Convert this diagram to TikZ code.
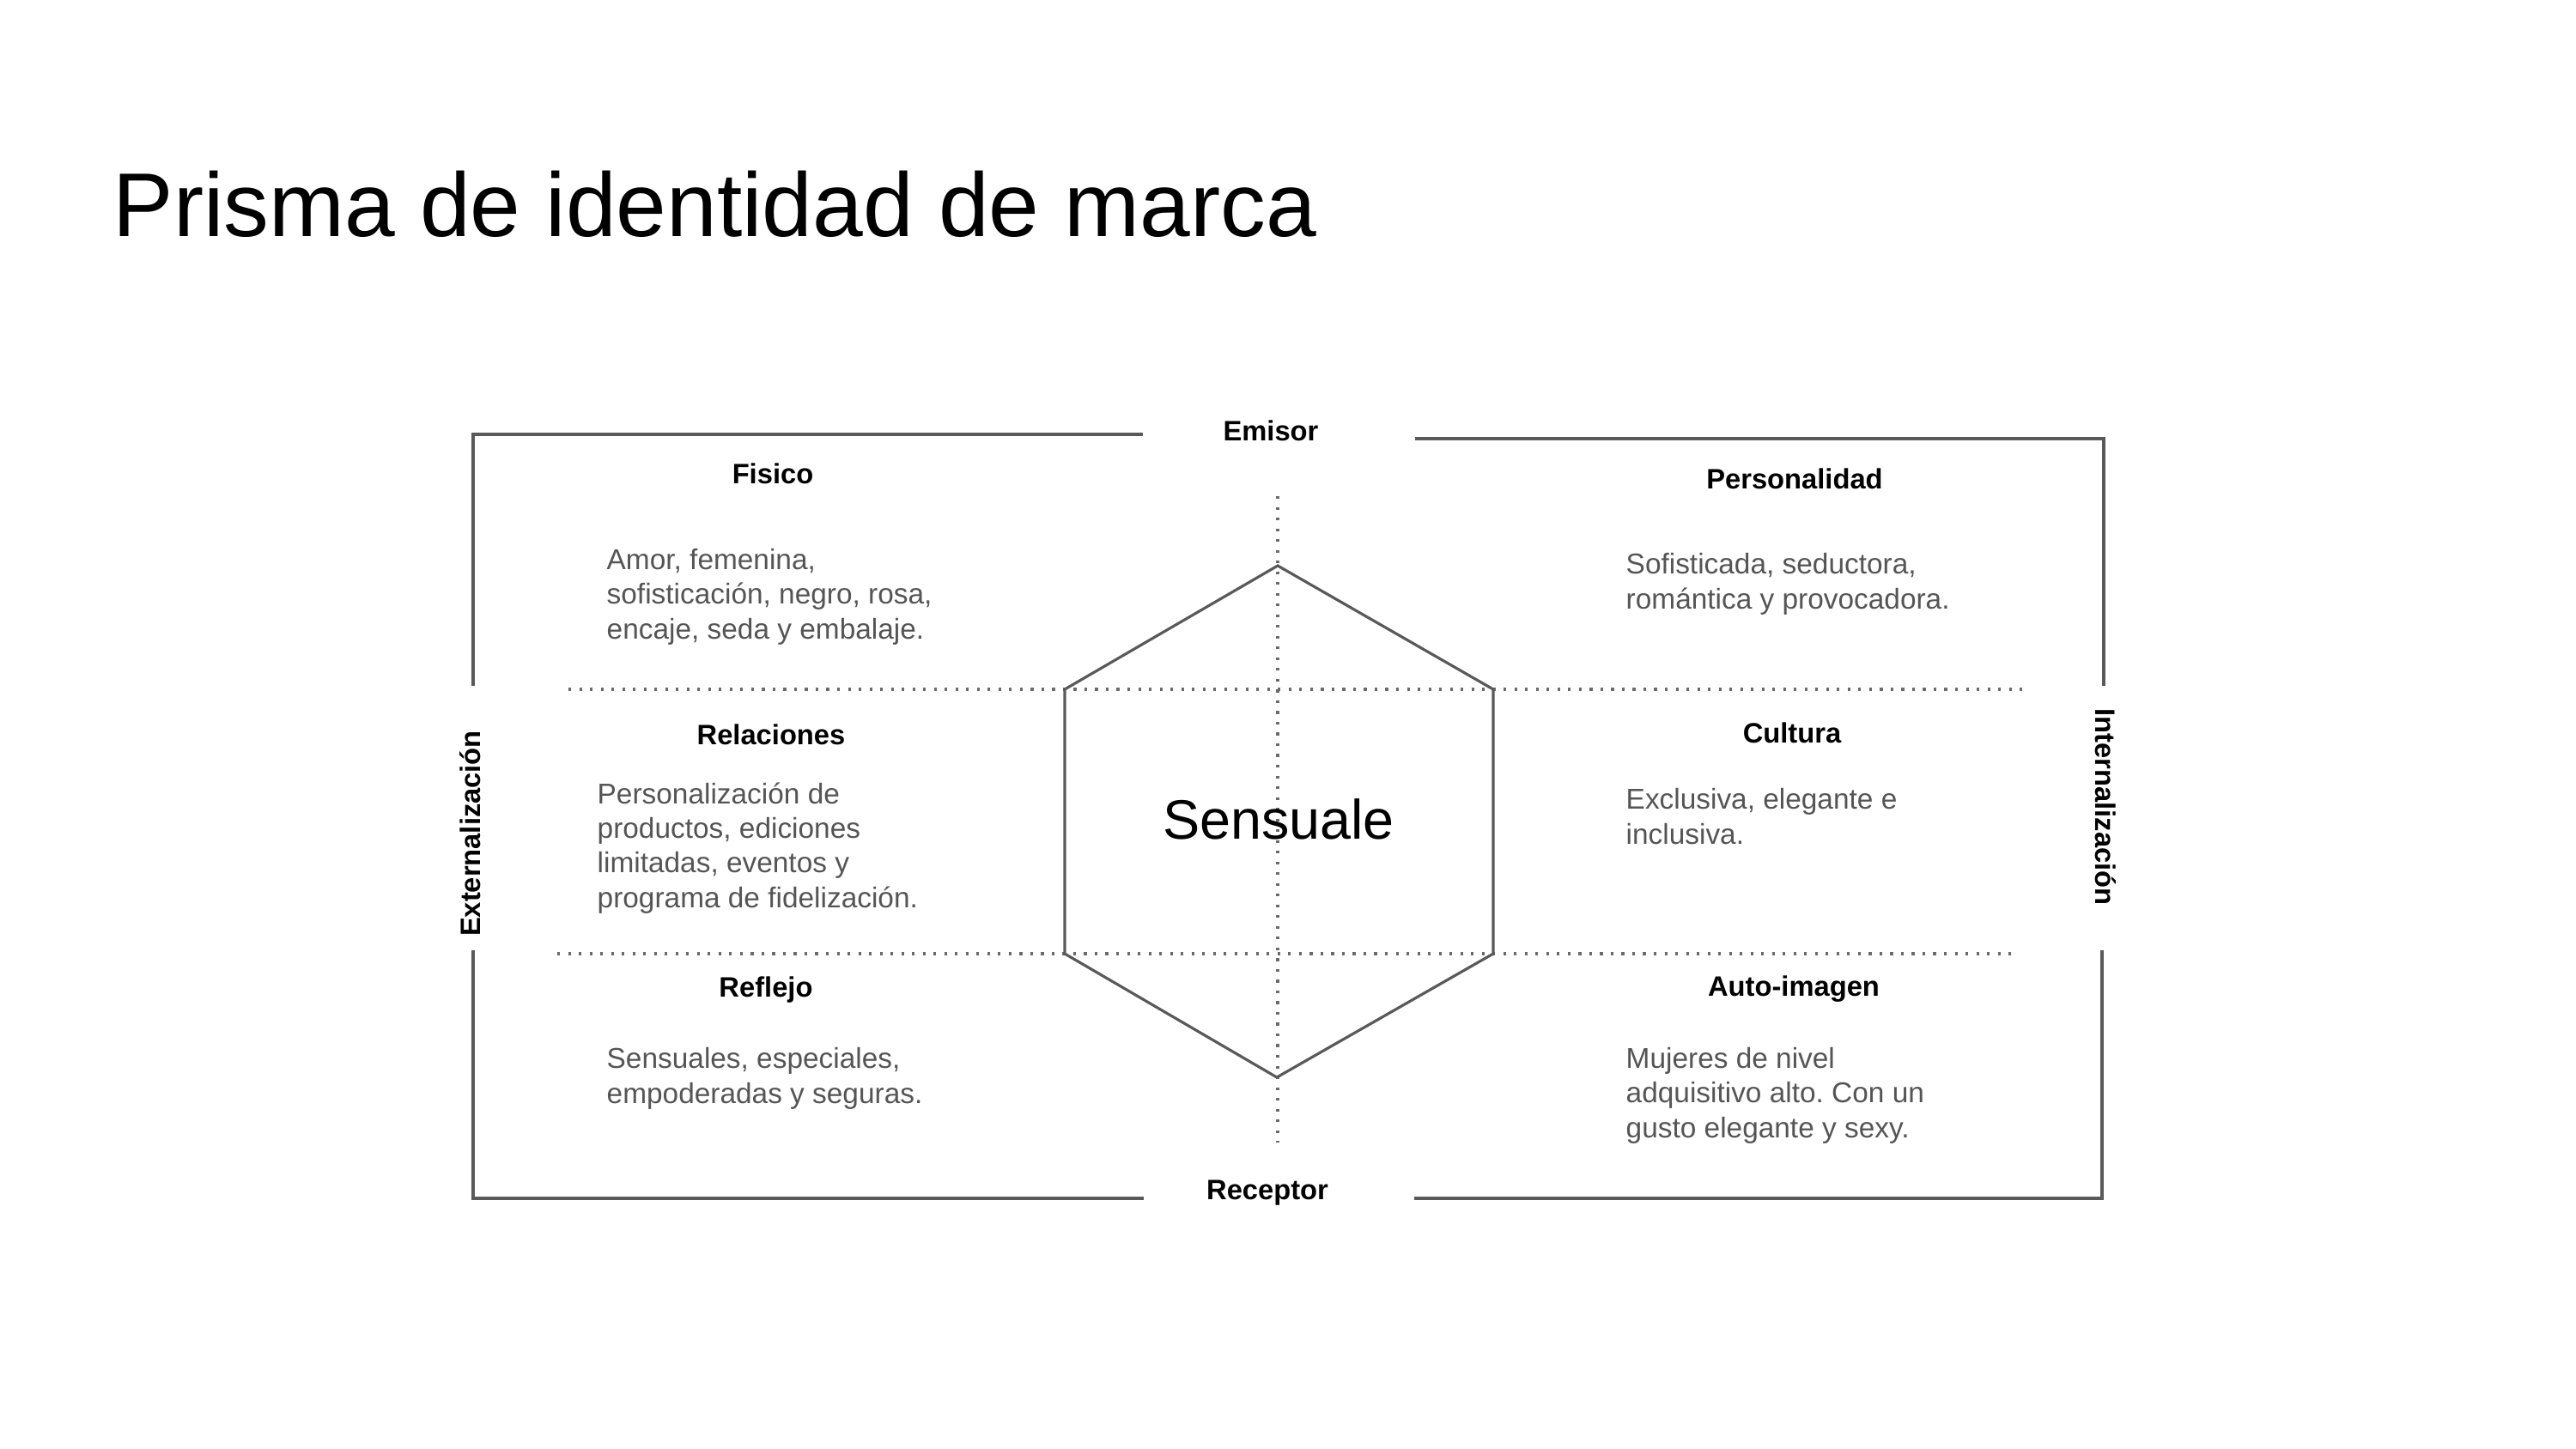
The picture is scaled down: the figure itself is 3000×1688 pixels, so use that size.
\documentclass[tikz,border=0pt]{standalone}
\usepackage{fontspec}
\setmainfont{Liberation Sans}
\usepackage{xcolor}
\definecolor{prismline}{HTML}{595959}
\definecolor{prismtext}{HTML}{555555}
\definecolor{prismdot}{HTML}{6a6a6a}
\frenchspacing

\begin{document}
\begin{tikzpicture}[x=0.01cm, y=-0.01cm,
  facet/.style={font=\fontsize{9.3}{11}\selectfont\bfseries, anchor=base, inner sep=0pt},
  facettext/.style={font=\fontsize{9.5}{11.4}\selectfont, text=prismtext,
    anchor=base west, inner sep=0pt, align=left},
  frame/.style={draw=prismline, line width=0.9pt},
  guide/.style={draw=prismdot, line width=0.9pt, dash pattern=on 0.9pt off 2.66pt},
  hexline/.style={draw=prismline, line width=0.9pt, line join=miter}
]
\useasboundingbox (0,0) rectangle (3000,1688);

\node[anchor=base west, inner sep=0pt, font=\fontsize{30}{36}\selectfont] (title) at (131,275)
  {Prisma de identidad de marca};

% axis labels
\node[facet] (emisor) at (1480,513) {Emisor};
\node[facet] (receptor) at (1476,1397) {Receptor};
\node[facet, rotate=90] (ext) at (559,971) {Externalización};
\node[facet, rotate=-90] (int) at (2440,940) {Internalización};

% frame corners
\coordinate (tl) at (551,506);
\coordinate (tr) at (2450,511);
\coordinate (bl) at (551,1396);
\coordinate (br) at (2448,1396);
\draw[frame] (551,799) -- (tl) -- (1331,506);
\draw[frame] (1648,511) -- (tr) -- (2450,799);
\draw[frame] (551,1107) -- (bl) -- (1332,1396);
\draw[frame] (1647,1396) -- (br) -- (2448,1107);

% dotted guides
\coordinate (gtop) at (1488,578);
\coordinate (gbot) at (1488,1331);
\draw[guide] (662,803) -- (2361,803);
\draw[guide] (649,1111) -- (2348,1111);
\draw[guide] (gtop) -- (gbot);

% prism
\coordinate (hn) at (1488,659);
\coordinate (hne) at (1739,803);
\coordinate (hse) at (1739,1111);
\coordinate (hs) at (1487,1255);
\coordinate (hsw) at (1240,1111);
\coordinate (hnw) at (1240,803);
\draw[hexline] (hn) -- (hne) -- (hse) -- (hs) -- (hsw) -- (hnw) -- cycle;
\node[anchor=base, inner sep=0pt, font=\fontsize{18.4}{22}\selectfont] (brand) at (1489,977) {Sensuale};

% facets (text nodes sit on the baseline of their last line)
\node[facet] (fisico) at (900,563) {Fisico};
\node[facettext] (fisicotxt) at (706,744)
  {Amor, femenina,\\sofisticación, negro, rosa,\\encaje, seda y embalaje.};
\node[facet] (perso) at (2090,569) {Personalidad};
\node[facettext] (persotxt) at (1893,709)
  {Sofisticada, seductora,\\romántica y provocadora.};
\node[facet] (rela) at (898,867) {Relaciones};
\node[facettext] (relatxt) at (695,1057)
  {Personalización de\\productos, ediciones\\limitadas, eventos y\\programa de fidelización.};
\node[facet] (cultura) at (2087,865) {Cultura};
\node[facettext] (culturatxt) at (1893,983)
  {Exclusiva, elegante e\\inclusiva.};
\node[facet] (reflejo) at (892,1161) {Reflejo};
\node[facettext] (reflejotxt) at (706,1285)
  {Sensuales, especiales,\\empoderadas y seguras.};
\node[facet] (auto) at (2089,1160) {Auto-imagen};
\node[facettext] (autotxt) at (1893,1325)
  {Mujeres de nivel\\adquisitivo alto. Con un\\gusto elegante y sexy.};
\end{tikzpicture}
\end{document}
